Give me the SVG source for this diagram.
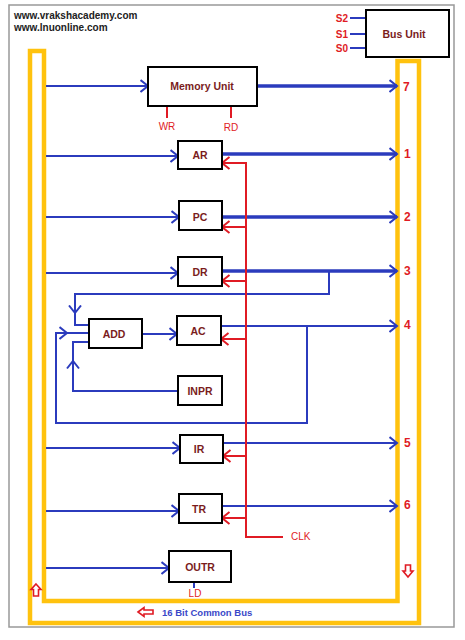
<svg xmlns="http://www.w3.org/2000/svg" width="465" height="640" viewBox="0 0 465 640">
<defs>
<style>
.box{fill:#fff;stroke:#000;stroke-width:2}
.lbl{font-family:"Liberation Sans",Arial,sans-serif;font-weight:bold;font-size:10.5px;fill:#7a1c1c;text-anchor:middle;dominant-baseline:central}
.b{fill:none;stroke:#2b3bbd;stroke-width:2}
.bt{fill:none;stroke:#2b3bbd;stroke-width:3.5}
.r{fill:none;stroke:#e01b24;stroke-width:2}
.num{font-family:"Liberation Sans",Arial,sans-serif;font-weight:bold;font-size:12px;fill:#e01b24;dominant-baseline:central}
.rt{font-family:"Liberation Sans",Arial,sans-serif;font-size:10px;fill:#e01b24;dominant-baseline:central}
.hdr{font-family:"Liberation Sans",Arial,sans-serif;font-weight:bold;font-size:10px;fill:#222}
.hol{fill:#fff;stroke:#e01b24;stroke-width:1.6}
</style>
<marker id="ab" markerUnits="userSpaceOnUse" viewBox="0 0 10 14" markerWidth="10" markerHeight="14" refX="8.5" refY="7" orient="auto"><path d="M1,1 L8.5,7 L1,13" fill="none" stroke="#2b3bbd" stroke-width="2"/></marker>
<marker id="ar" markerUnits="userSpaceOnUse" viewBox="0 0 10 14" markerWidth="10" markerHeight="14" refX="8.5" refY="7" orient="auto"><path d="M1,1 L8.5,7 L1,13" fill="none" stroke="#e01b24" stroke-width="2"/></marker>
</defs>
<rect x="0" y="0" width="465" height="640" fill="#fff"/>
<rect x="9" y="5" width="445" height="622" fill="none" stroke="#999" stroke-width="1.5"/>
<text class="hdr" x="14" y="19">www.vrakshacademy.com</text>
<text class="hdr" x="14" y="31">www.lnuonline.com</text>

<g id="bus">
<path d="M30,51 L30,623 L419,623 L419,61 L397.5,61 L397.5,601 L44,601 L44,51 Z" fill="none" stroke="#ffc20e" stroke-width="4.5"/>
<polygon class="hol" points="36,584 41,589.5 38.5,589.5 38.5,596 33.5,596 33.5,589.5 31,589.5"/>
<polygon class="hol" points="408,577 413,571 410.5,571 410.5,565 405.5,565 405.5,571 403,571"/>
<polygon class="hol" points="138,612 144,607.5 144,610 153,610 153,614 144,614 144,616.5"/>
<text x="162" y="612" font-family="'Liberation Sans',Arial,sans-serif" font-weight="bold" font-size="9.5px" fill="#3a48c8" dominant-baseline="central">16 Bit Common Bus</text>
</g>

<g id="connectors">
<line class="b" x1="350" y1="18" x2="366" y2="18"/>
<line class="b" x1="350" y1="34" x2="366" y2="34"/>
<line class="b" x1="350" y1="48" x2="366" y2="48"/>
<line class="b" x1="46" y1="86" x2="148" y2="86" marker-end="url(#ab)"/>
<line class="bt" x1="257" y1="86" x2="397" y2="86" marker-end="url(#ab)"/>
<line class="r" x1="167" y1="106" x2="167" y2="118"/>
<line class="r" x1="231" y1="106" x2="231" y2="118"/>
<line class="b" x1="46" y1="156" x2="178" y2="156" marker-end="url(#ab)"/>
<line class="bt" x1="222" y1="154" x2="397" y2="154" marker-end="url(#ab)"/>
<line class="b" x1="46" y1="217" x2="179" y2="217" marker-end="url(#ab)"/>
<line class="bt" x1="222" y1="217" x2="397" y2="217" marker-end="url(#ab)"/>
<line class="b" x1="46" y1="273" x2="178" y2="273" marker-end="url(#ab)"/>
<line class="bt" x1="222" y1="271" x2="397" y2="271" marker-end="url(#ab)"/>
<path class="b" d="M329,271 L329,294 L75,294 L75,325 L89,325"/>
<line class="b" x1="75" y1="300" x2="75" y2="313" marker-end="url(#ab)"/>
<path class="b" d="M221,326 L307,326 L307,423 L56,423 L56,333 L89,333"/>
<line class="b" x1="56" y1="333" x2="67" y2="333" marker-end="url(#ab)"/>
<path class="b" d="M178,391 L73,391 L73,342 L89,342"/>
<line class="b" x1="73" y1="375" x2="73" y2="361" marker-end="url(#ab)"/>
<line class="b" x1="142" y1="334" x2="177" y2="334" marker-end="url(#ab)"/>
<line class="b" x1="221" y1="326" x2="397" y2="326" marker-end="url(#ab)"/>
<line class="b" x1="46" y1="448" x2="180" y2="448" marker-end="url(#ab)"/>
<line class="b" x1="223" y1="443" x2="397" y2="443" marker-end="url(#ab)"/>
<line class="b" x1="46" y1="511" x2="179" y2="511" marker-end="url(#ab)"/>
<line class="b" x1="222" y1="506" x2="397" y2="506" marker-end="url(#ab)"/>
<line class="b" x1="46" y1="568" x2="169" y2="568" marker-end="url(#ab)"/>
<line class="b" x1="194" y1="582" x2="194" y2="588"/>
<path class="r" d="M222,163 L246,163 L246,537 L283,537"/>
<line class="r" x1="246" y1="227" x2="222" y2="227" marker-end="url(#ar)"/>
<line class="r" x1="246" y1="163" x2="222" y2="163" marker-end="url(#ar)"/>
<line class="r" x1="246" y1="281" x2="222" y2="281" marker-end="url(#ar)"/>
<line class="r" x1="246" y1="339" x2="221" y2="339" marker-end="url(#ar)"/>
<line class="r" x1="246" y1="456" x2="223" y2="456" marker-end="url(#ar)"/>
<line class="r" x1="246" y1="518" x2="222" y2="518" marker-end="url(#ar)"/>
</g>

<g id="labels">
<text class="num" x="403" y="87">7</text>
<text class="num" x="404" y="154">1</text>
<text class="num" x="404" y="217">2</text>
<text class="num" x="404" y="271">3</text>
<text class="num" x="404" y="325">4</text>
<text class="num" x="404" y="443">5</text>
<text class="num" x="404" y="505">6</text>
<text class="rt" x="167" y="126" text-anchor="middle">WR</text>
<text class="rt" x="231" y="127" text-anchor="middle">RD</text>
<text class="rt" x="291" y="536">CLK</text>
<text class="rt" x="195" y="593" text-anchor="middle" font-size="9.5px">LD</text>
<text class="rt" x="348" y="18" text-anchor="end" font-weight="bold" font-size="9px">S2</text>
<text class="rt" x="348" y="34" text-anchor="end" font-weight="bold" font-size="9px">S1</text>
<text class="rt" x="348" y="48" text-anchor="end" font-weight="bold" font-size="9px">S0</text>
</g>

<g id="bus-unit"><rect class="box" x="366" y="10" width="83" height="47"/><text class="lbl" x="404" y="34">Bus Unit</text></g>
<g id="memory-unit"><rect class="box" x="148" y="67" width="109" height="39"/><text class="lbl" x="202" y="86">Memory Unit</text></g>
<g id="ar-reg"><rect class="box" x="178" y="141" width="44" height="28"/><text class="lbl" x="200" y="155">AR</text></g>
<g id="pc-reg"><rect class="box" x="179" y="201" width="43" height="29"/><text class="lbl" x="200" y="217">PC</text></g>
<g id="dr-reg"><rect class="box" x="178" y="257" width="44" height="29"/><text class="lbl" x="200" y="272">DR</text></g>
<g id="add"><rect class="box" x="89" y="319" width="53" height="29"/><text class="lbl" x="114" y="334">ADD</text></g>
<g id="ac-reg"><rect class="box" x="177" y="316" width="44" height="29"/><text class="lbl" x="198" y="331">AC</text></g>
<g id="inpr"><rect class="box" x="178" y="376" width="44" height="29"/><text class="lbl" x="200" y="391">INPR</text></g>
<g id="ir-reg"><rect class="box" x="180" y="435" width="43" height="28"/><text class="lbl" x="199" y="449">IR</text></g>
<g id="tr-reg"><rect class="box" x="179" y="494" width="43" height="29"/><text class="lbl" x="199" y="509">TR</text></g>
<g id="outr"><rect class="box" x="169" y="551" width="62" height="31"/><text class="lbl" x="200" y="567">OUTR</text></g>
</svg>
